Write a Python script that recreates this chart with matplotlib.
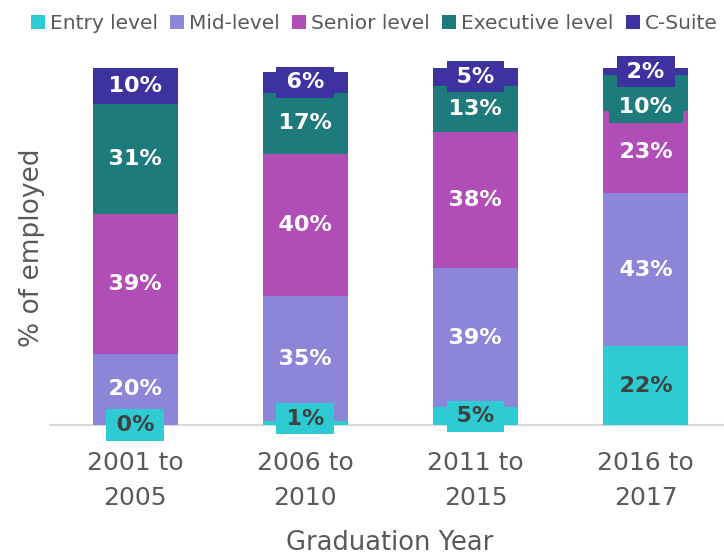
import matplotlib
matplotlib.use("Agg")
import matplotlib.pyplot as plt
import numpy as np

periods = ["2001 to\n2005", "2006 to\n2010", "2011 to\n2015", "2016 to\n2017"]
levels = ["Entry level", "Mid-level", "Senior level", "Executive level", "C-Suite"]
entry = [0, 1, 5, 22]
mid = [20, 35, 39, 43]
senior = [39, 40, 38, 23]
executive = [31, 17, 13, 10]
csuite = [10, 6, 5, 2]

colors = ["#2ECBD2", "#8C86D8", "#B04DB6", "#1E7B7C", "#3C33A0"]
text_colors = ["#404040", "white", "white", "white", "white"]
grey = "#595959"
# labels nudged like the original (in % units)
nudge = {(1, 0): 1.3, (3, 3): -4.0}

fig = plt.figure(figsize=(7.24, 5.59), dpi=100)
ax = fig.add_axes([50 / 724, (559 - 425) / 559, 1 - 50 / 724, 357 / 559])

x = np.arange(len(periods))
bottom = np.zeros(len(periods))
series = [entry, mid, senior, executive, csuite]
for j, (vals, col, tcol, name) in enumerate(zip(series, colors, text_colors, levels)):
    vals = np.array(vals, dtype=float)
    ax.bar(x, vals, 0.5, bottom=bottom, color=col, label=name, zorder=2)
    for i, (xi, b, v) in enumerate(zip(x, bottom, vals)):
        ax.text(xi, b + v / 2 + nudge.get((i, j), 0), "\u2009%d%%\u2009" % v,
                ha="center", va="center", fontsize=16, fontweight="bold",
                color=tcol, zorder=4 + j * 0.1,
                bbox=dict(boxstyle="square,pad=0.25", fc=col, ec="none"),
                clip_on=False)
    bottom += vals

ax.set_xlim(-0.5, 3.46)
ax.set_ylim(0, 100)
ax.set_yticks([])
ax.set_xticks(x)
ax.set_xticklabels(periods, fontsize=18, color=grey, linespacing=1.55)
ax.tick_params(axis="x", length=0, pad=19)
for s in ["left", "right", "top"]:
    ax.spines[s].set_visible(False)
ax.spines["bottom"].set_color("#D9D9D9")
ax.spines["bottom"].set_linewidth(1.5)
ax.spines["bottom"].set_zorder(1)

fig.text(32 / 724, 1 - 248 / 559, "% of employed", rotation=90, ha="center",
         va="center", fontsize=19, color=grey)
fig.text(390 / 724, 1 - 543 / 559, "Graduation Year", ha="center",
         va="center", fontsize=18.5, color=grey)

fig.legend(loc="upper center", bbox_to_anchor=(0.517, 1.008), ncol=5,
           frameon=False, fontsize=14.5, handlelength=0.7, handleheight=0.7,
           handletextpad=0.25, columnspacing=0.6, labelcolor=grey)

fig.savefig("out.png", dpi=100)
